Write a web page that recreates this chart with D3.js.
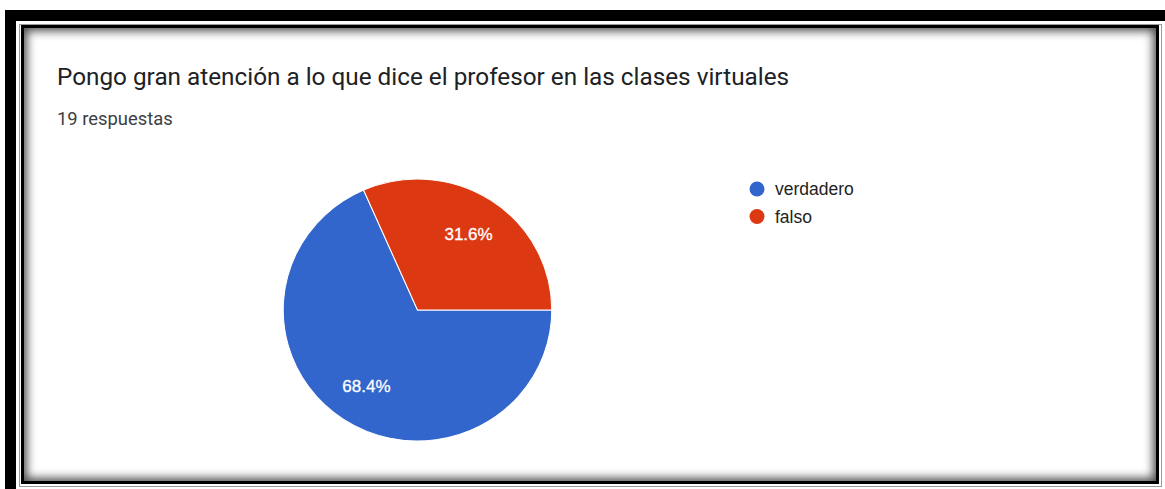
<!DOCTYPE html>
<html>
<head>
<meta charset="utf-8">
<script src="https://cdn.jsdelivr.net/npm/d3@7"></script>
<style>
  html, body { margin: 0; padding: 0; background: #fff; }
  #page { position: relative; width: 1165px; height: 489px; overflow: hidden; background: #fff; }
  .blk { position: absolute; background: #000; }
  #grayBox { position: absolute; left: 19px; top: 24px; width: 1143px; height: 463px;
    box-sizing: border-box; border: 1px solid #9a9a9a; }
  #card { position: absolute; left: 21px; top: 25px; width: 1138px; height: 459px;
    box-sizing: border-box; border: 3px solid #000; background: #fff;
    box-shadow: inset 0 0 10px 3px rgba(0,0,0,0.7); }
  svg { position: absolute; left: 0; top: 0; }
</style>
</head>
<body>
<div id="page">
  <div class="blk" style="left:5px;top:10px;width:1160px;height:11px"></div>
  <div class="blk" style="left:5px;top:10px;width:11px;height:479px"></div>
  <div id="grayBox"></div>
  <div id="card"></div>
</div>
<script>
const titleText = "Pongo gran atención a lo que dice el profesor en las clases virtuales";
const subtitleText = "19 respuestas";
const categories = ["verdadero", "falso"];
const counts = [13, 6];
const colors = ["#3366cc", "#dc3912"];

const width = 1165;
const height = 489;

const svg = d3
  .select("#page")
  .append("svg")
  .attr("width", width)
  .attr("height", height);

svg
  .append("text")
  .attr("x", 57)
  .attr("y", 85)
  .attr("font-family", "Roboto, sans-serif")
  .attr("font-size", 24.3)
  .attr("fill", "#202124")
  .text(titleText);

svg
  .append("text")
  .attr("x", 57)
  .attr("y", 125)
  .attr("font-family", "Roboto, sans-serif")
  .attr("font-size", 18.4)
  .attr("fill", "#3c4043")
  .text(subtitleText);

// pie, google charts style: starts at 3 o'clock, clockwise
const radius = 131;
const pie = d3
  .pie()
  .sort(null)
  .startAngle(Math.PI / 2)
  .endAngle(Math.PI / 2 + 2 * Math.PI);
const arcs = pie(counts);
const total = d3.sum(counts);
const fmt = d3.format(".1%");

const arc = d3.arc().innerRadius(0).outerRadius(radius);
const labelArc = d3.arc().innerRadius(radius * 0.695).outerRadius(radius * 0.695);

const g = svg
  .append("g")
  .attr("transform", "translate(417.5,310) scale(1.025,1)");

g.selectAll("path")
  .data(arcs)
  .join("path")
  .attr("d", arc)
  .attr("fill", (d, i) => colors[i])
  .attr("stroke", "#fff")
  .attr("stroke-width", 1);

g.selectAll("text")
  .data(arcs)
  .join("text")
  .attr("transform", (d) => {
    const [x, y] = labelArc.centroid(d);
    return `translate(${x},${y}) scale(${1 / 1.025},1)`;
  })
  .attr("text-anchor", "middle")
  .attr("dy", "0.36em")
  .attr("font-family", "Arial, 'Liberation Sans', sans-serif")
  .attr("font-size", 17)
  .attr("fill", "#fff")
  .attr("stroke", "#fff")
  .attr("stroke-width", 0.3)
  .text((d) => fmt(d.data / total));

// legend
const legend = svg
  .append("g")
  .selectAll("g")
  .data(categories)
  .join("g")
  .attr("transform", (d, i) => `translate(757,${189 + i * 27.5})`);

legend
  .append("circle")
  .attr("r", 7.5)
  .attr("fill", (d, i) => colors[i]);

legend
  .append("text")
  .attr("x", 18)
  .attr("dy", "0.36em")
  .attr("font-family", "Arial, 'Liberation Sans', sans-serif")
  .attr("font-size", 17.5)
  .attr("fill", "#222")
  .text((d) => d);
</script>
</body>
</html>
